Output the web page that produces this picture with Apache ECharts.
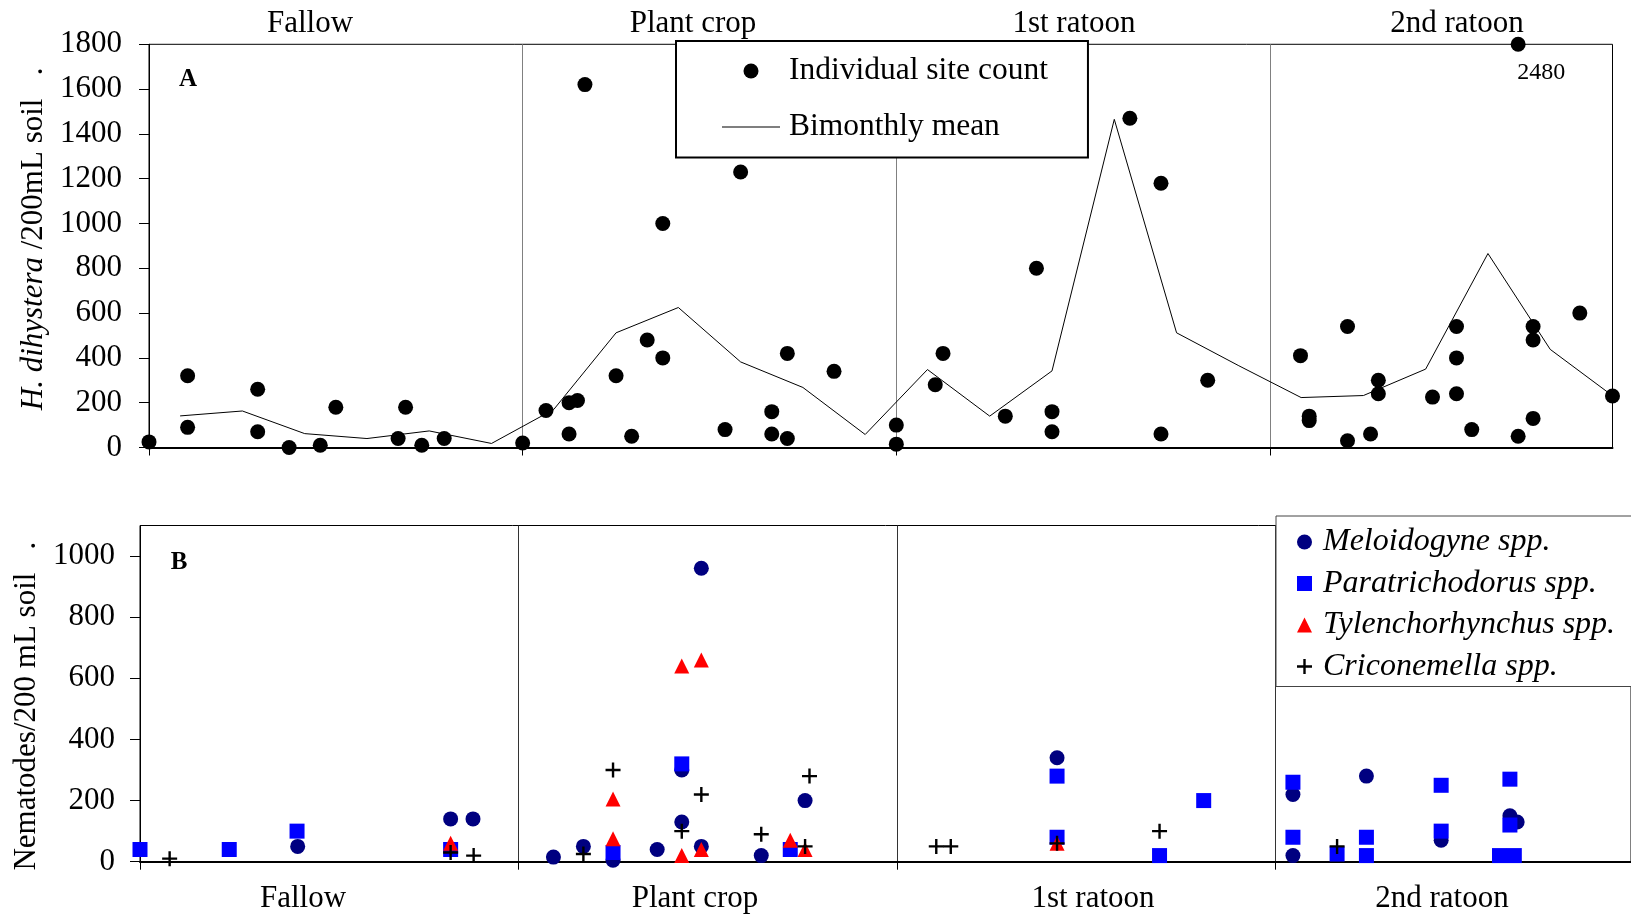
<!DOCTYPE html>
<html><head><meta charset="utf-8">
<script src="https://cdn.jsdelivr.net/npm/echarts@6/dist/echarts.min.js"></script>
<style>html,body{margin:0;padding:0;background:#fff}#c{width:1631px;height:918px}</style>
</head><body><div id="c"></div>
<script>
// ---------- data ----------
const periodNames = ['Fallow', 'Plant crop', '1st ratoon', '2nd ratoon'];

// Panel A: H. dihystera individual site counts (month since start, count)
const siteMonths = [0, 1.24, 1.24, 3.49, 3.49, 4.5, 5.5, 6.0, 8.0, 8.24, 8.76, 9.48, 12.0,
  12.75, 13.49, 13.49, 13.76, 14.0, 15.0, 15.5, 16.0, 16.5, 16.5, 18.5, 19.0, 20.0, 20.0, 20.5, 20.5, 22.0, 24.0, 24.0,
  25.25, 25.5, 27.5, 28.5, 29.0, 29.0, 31.5, 32.5, 32.5, 34.0,
  36.98, 37.26, 37.26, 38.49, 38.49, 39.23, 39.48, 39.48, 41.22, 41.99, 41.99, 41.99, 42.48, 43.97, 43.97, 44.45, 44.45, 44.45, 45.95, 47.0];
const siteCounts = [25, 320, 90, 260, 70, 0, 10, 180, 40, 180, 10, 40, 20,
  165, 200, 60, 210, 1620, 320, 50, 480, 400, 1000, 80, 1230, 160, 60, 420, 40, 340, 100, 15,
  280, 420, 140, 800, 160, 70, 1470, 1180, 60, 300,
  410, 140, 120, 540, 30, 60, 300, 240, 225, 540, 400, 240, 80, 2480, 50, 540, 480, 130, 600, 230];

// Panel A: bimonthly mean
const meanMonths = [1, 3, 5, 7, 9, 11, 13, 15, 17, 19, 21, 23, 25, 27, 29, 31, 33, 35, 37, 39, 41, 43, 45, 47];
const meanCounts = [141, 163, 62, 40, 74, 18, 170, 512, 625, 382, 268, 58, 348, 140, 342, 1465, 512, 365, 223, 232, 350, 866, 438, 231];

// Panel B: other nematodes
const melMonths = [5.0, 9.85, 10.56, 13.11, 14.06, 15.0, 16.4, 17.18, 17.18, 17.8, 17.8, 19.7, 21.09, 29.08, 36.56, 36.56, 38.89, 41.26, 43.44, 43.67];
const melCounts = [50, 140, 140, 15, 50, 5, 40, 300, 130, 960, 50, 20, 200, 340, 220, 20, 280, 70, 150, 130];

const paraMonths = [0, 2.83, 4.98, 9.85, 15.0, 17.18, 20.62, 29.08, 29.08, 32.33, 33.73, 36.56, 36.56, 37.96, 38.89, 38.89, 41.26, 41.26, 43.44, 43.44, 43.11, 43.58];
const paraCounts = [40, 40, 100, 40, 30, 320, 40, 280, 80, 20, 200, 260, 80, 25, 80, 20, 250, 100, 270, 120, 20, 20];

const tyleMonths = [9.85, 15.0, 15.0, 17.18, 17.18, 17.8, 17.8, 20.62, 21.09, 29.08];
const tyleCounts = [60, 205, 75, 640, 20, 660, 40, 70, 40, 60];

const cricMonths = [0.94, 9.85, 10.58, 14.06, 15.0, 17.18, 17.8, 19.7, 21.09, 21.23, 25.25, 25.71, 29.08, 32.33, 37.96];
const cricCounts = [10, 30, 20, 25, 300, 100, 220, 90, 50, 280, 50, 50, 60, 100, 50];

const seriesNamesA = ['Individual site count', 'Bimonthly mean'];
const seriesNamesB = ['Meloidogyne spp.', 'Paratrichodorus spp.', 'Tylenchorhynchus spp.', 'Criconemella spp.'];

// ---------- chart ----------
const FONT = '"Liberation Serif","Times New Roman",serif';
const PLUS = 'path://M6.3,0H8.7V6.3H15V8.7H8.7V15H6.3V8.7H0V6.3H6.3Z';
const LINEICON = 'path://M0,0H58V1.2H0Z';
const yMaxA = 1800;
const pair = (xs, ys) => xs.map((x, i) => [x, ys[i]]);
const plain = v => String(v);

const siteData = siteMonths.map((m, i) => siteCounts[i] > yMaxA
  ? { value: [m, yMaxA], label: { show: true, formatter: String(siteCounts[i]), position: 'bottom', offset: [23, 4],
      fontSize: 24, fontFamily: FONT, color: '#000' } }
  : [m, siteCounts[i]]);

const chart = echarts.init(document.getElementById('c'), null, { renderer: 'canvas' });

const txt = (text, x, y, size, weight) => ({
  type: 'text', x: x, y: y, silent: true,
  style: { text: text, fontSize: size, fontFamily: FONT, fontWeight: weight || 'normal', fill: '#000', align: 'center', verticalAlign: 'middle' }
});
const topLabelX = [310, 693, 1074, 1457];
const botLabelX = [303, 695, 1093, 1442];
const graphics = [];
periodNames.forEach((n, i) => { graphics.push(txt(n, topLabelX[i], 24, 31)); graphics.push(txt(n, botLabelX[i], 899, 31)); });
graphics.push(txt('A', 188, 80, 25, 'bold'));
graphics.push(txt('B', 179, 563, 25, 'bold'));

const yAxisCommon = {
  type: 'value',
  axisLine: { show: true, lineStyle: { color: '#000', width: 1 } },
  axisTick: { show: true, length: 10, lineStyle: { color: '#000' } },
  splitLine: { show: false },
  nameLocation: 'middle', nameRotate: 90
};
const scatterItem = c => ({ color: c, opacity: 1 });

const option = {
  animation: false,
  backgroundColor: '#fff',
  textStyle: { fontFamily: FONT },
  grid: [
    { left: 149, top: 44.3, right: 18.5, bottom: 470.5, show: true, borderColor: '#000', borderWidth: 1, backgroundColor: 'transparent' },
    { left: 140, top: 525.5, right: 0, bottom: 56.3, show: true, borderColor: '#000', borderWidth: 1, backgroundColor: 'transparent' }
  ],
  xAxis: [
    { gridIndex: 0, type: 'value', min: 0, max: 47, interval: 12,
      axisLine: { lineStyle: { color: '#000', width: 2 } },
      axisTick: { show: true, length: 8, lineStyle: { color: '#000' }, customValues: [0, 12, 24, 36] },
      axisLabel: { show: false },
      splitLine: { show: true, lineStyle: { color: '#808080', width: 1 } } },
    { gridIndex: 1, type: 'value', min: 0, max: 47.28, interval: 12,
      axisLine: { lineStyle: { color: '#000', width: 2 } },
      axisTick: { show: true, length: 8, lineStyle: { color: '#000' }, customValues: [0, 12, 24, 36] },
      axisLabel: { show: false },
      splitLine: { show: true, lineStyle: { color: '#333', width: 1 } } }
  ],
  yAxis: [
    Object.assign({}, yAxisCommon, { gridIndex: 0, min: 0, max: 1800, interval: 200, nameGap: 89,
      axisLabel: { fontSize: 31, fontFamily: FONT, color: '#000', margin: 27, formatter: plain },
      name: '{i|H. dihystera} /200mL soil   .',
      nameTextStyle: { fontSize: 31, fontFamily: FONT, color: '#000', padding: [0, 0, 0, 14],
        rich: { i: { fontStyle: 'italic', fontSize: 31, fontFamily: FONT, color: '#000' } } } }),
    Object.assign({}, yAxisCommon, { gridIndex: 1, min: 0, max: 1100, interval: 200, nameGap: 89,
      axisLabel: { fontSize: 31, fontFamily: FONT, color: '#000', margin: 25, showMaxLabel: false, formatter: plain },
      name: 'Nematodes/200 mL soil   .',
      nameTextStyle: { fontSize: 31, fontFamily: FONT, color: '#000', padding: [0, 25, 0, 0] } })
  ],
  legend: [
    { left: 676, top: 41, orient: 'vertical', padding: [14, 40, 14.5, 46], itemWidth: 58, itemHeight: 15, itemGap: 24,
      borderColor: '#000', borderWidth: 2, backgroundColor: '#fff', selectedMode: false,
      textStyle: { fontSize: 31.5, fontFamily: FONT, color: '#000', lineHeight: 30, padding: [0, 0, 0, 4] },
      data: [{ name: seriesNamesA[0], icon: 'circle' }, { name: seriesNamesA[1], icon: LINEICON }] },
    { left: 1276, top: 516, orient: 'vertical', padding: [10, 40, 4, 21], itemWidth: 15, itemHeight: 15, itemGap: 9.5,
      borderColor: '#444', borderWidth: 1, backgroundColor: '#fff', selectedMode: false,
      textStyle: { fontSize: 32, fontStyle: 'italic', fontFamily: FONT, color: '#000', lineHeight: 30, padding: [0, 0, 0, 6] },
      data: [{ name: seriesNamesB[0], icon: 'circle' }, { name: seriesNamesB[1], icon: 'rect' },
             { name: seriesNamesB[2], icon: 'triangle' }, { name: seriesNamesB[3], icon: PLUS }] }
  ],
  graphic: graphics,
  series: [
    { name: seriesNamesA[0], type: 'scatter', xAxisIndex: 0, yAxisIndex: 0, symbol: 'circle', symbolSize: 15,
      itemStyle: scatterItem('#000'), data: siteData, emphasis: { disabled: true }, clip: false },
    { name: seriesNamesA[1], type: 'line', xAxisIndex: 0, yAxisIndex: 0, symbol: 'none', showSymbol: false,
      lineStyle: { color: '#000', width: 1 }, itemStyle: { color: '#000' }, data: pair(meanMonths, meanCounts), emphasis: { disabled: true } },
    { name: seriesNamesB[0], type: 'scatter', xAxisIndex: 1, yAxisIndex: 1, symbol: 'circle', symbolSize: 15,
      itemStyle: scatterItem('#000080'), data: pair(melMonths, melCounts), emphasis: { disabled: true } },
    { name: seriesNamesB[1], type: 'scatter', xAxisIndex: 1, yAxisIndex: 1, symbol: 'rect', symbolSize: 15,
      itemStyle: scatterItem('#0000ff'), data: pair(paraMonths, paraCounts), emphasis: { disabled: true } },
    { name: seriesNamesB[2], type: 'scatter', xAxisIndex: 1, yAxisIndex: 1, symbol: 'triangle', symbolSize: 15,
      itemStyle: scatterItem('#ff0000'), data: pair(tyleMonths, tyleCounts), emphasis: { disabled: true } },
    { name: seriesNamesB[3], type: 'scatter', xAxisIndex: 1, yAxisIndex: 1, symbol: PLUS, symbolSize: 15,
      itemStyle: scatterItem('#000'), data: pair(cricMonths, cricCounts), emphasis: { disabled: true } }
  ]
};
chart.setOption(option);
</script>
</body></html>
